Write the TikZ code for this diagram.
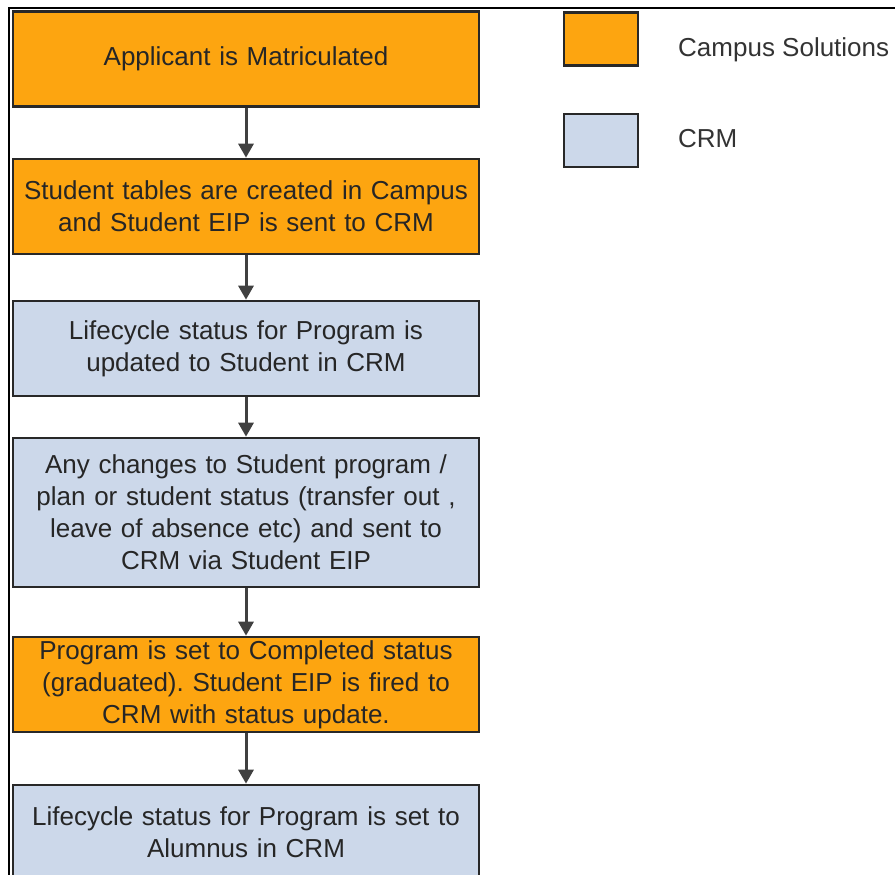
\documentclass[tikz,border=0pt]{standalone}
\usepackage{fontspec}
\setmainfont{Liberation Sans}
\usepackage{tikz}
\usetikzlibrary{positioning,arrows.meta,calc}
\definecolor{csorange}{RGB}{253,165,16}
\definecolor{crmblue}{RGB}{204,216,234}
\definecolor{edgegray}{RGB}{40,40,40}
\frenchspacing
\begin{document}
\begin{tikzpicture}[x=1pt,y=-1pt,
  stepbox/.style={draw=edgegray,line width=2.6pt,minimum width=466pt,minimum height=95pt,
    text width=462pt,align=center,inner sep=0pt,font=\fontsize{26}{32}\selectfont,text=black!85},
  cs/.style={stepbox,fill=csorange},
  crm/.style={stepbox,fill=crmblue},
  keybox/.style={draw=edgegray,line width=2.8pt,minimum width=74pt,minimum height=53pt,inner sep=0pt},
  keylab/.style={anchor=west,inner sep=0pt,font=\fontsize{26}{30}\selectfont,text=black!80},
  flow/.style={-{Triangle[width=15pt,length=14pt]},draw=black!75,line width=3pt}]
  \useasboundingbox(0,0)rectangle(895,875);
  \draw[line width=1.5pt](9,875)--(9,8)--(895,8);
  \node[cs](matric) at(246,59){Applicant is Matriculated};
  \node[cs](tables) at(246,206.5){Student tables are created in Campus\\and Student EIP is sent to CRM};
  \node[crm](lcstud) at(246,348.5){Lifecycle status for Program is\\updated to Student in CRM};
  \node[crm,minimum height=149pt](changes) at(246,512.5){Any changes to Student program /\\plan or student status (transfer out ,\\leave of absence etc) and sent to\\CRM via Student EIP};
  \node[cs](compl) at(246,684.5){Program is set to Completed status\\(graduated). Student EIP is fired to\\CRM with status update.};
  \node[crm](alum) at(246,832.5){Lifecycle status for Program is set to\\Alumnus in CRM};
  \draw[flow](matric)--(tables);
  \draw[flow](tables)--(lcstud);
  \draw[flow](lcstud)--(changes);
  \draw[flow](changes)--(compl);
  \draw[flow](compl)--(alum);
  \node[keybox,fill=csorange](keycs) at(601,39){};
  \node[keybox,fill=crmblue](keycrm) at(601,140.5){};
  \node[keylab](labcs) at(678,50){Campus Solutions};
  \node[keylab](labcrm) at(678,139){CRM};
\end{tikzpicture}
\end{document}
